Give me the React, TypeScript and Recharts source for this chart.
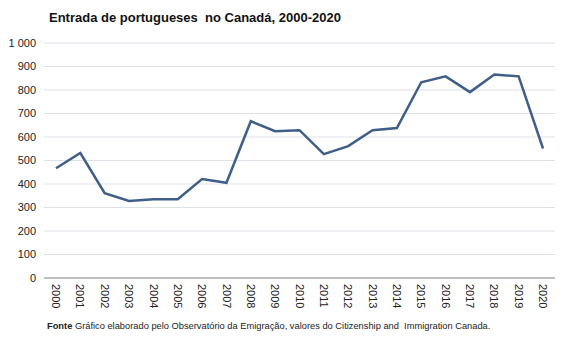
import React from "react";
import { LineChart, Line, XAxis, YAxis, CartesianGrid } from "recharts";

const years = ["2000","2001","2002","2003","2004","2005","2006","2007","2008","2009","2010","2011","2012","2013","2014","2015","2016","2017","2018","2019","2020"];
const entradas = [467, 532, 361, 328, 335, 335, 421, 405, 667, 625, 629, 527, 561, 629, 638, 833, 858, 791, 866, 858, 551];
const yTicks = [0, 100, 200, 300, 400, 500, 600, 700, 800, 900, 1000];

const title = "Entrada de portugueses\u00a0 no Canadá, 2000-2020";
const sourceLabel = "Fonte";
const sourceText = " Gráfico elaborado pelo Observatório da Emigração, valores do Citizenship and\u00a0 Immigration Canada.";

const data = years.map((y, i) => ({ year: y, value: entradas[i] }));

const fmt = (v: number) => (v >= 1000 ? `${Math.floor(v / 1000)} ${String(v % 1000).padStart(3, "0")}` : String(v));

const XTick = (props: any) => {
  const { x, y, payload } = props;
  return (
    <g transform={`translate(${x},${y - 2})`}>
      <text transform="rotate(90)" x={0} y={0} dy="0.35em" textAnchor="start" fontSize={11} fill="#222" fontFamily="Arial, 'Liberation Sans', sans-serif">
        {payload.value}
      </text>
    </g>
  );
};

export default function App() {
  return (
    <div style={{ position: "absolute", left: 0, top: 0, width: 567, height: 340, background: "#fff", fontFamily: "Arial, 'Liberation Sans', sans-serif" }}>
      <div style={{ position: "absolute", left: 49, top: 10, fontSize: 13, fontWeight: "bold", color: "#111", whiteSpace: "pre" }}>{title}</div>
      <LineChart width={567} height={340} data={data} margin={{ top: 43, right: 12, left: 0, bottom: 0 }}>
        <CartesianGrid vertical={false} stroke="#dde1e8" strokeWidth={1} />
        <XAxis dataKey="year" height={62} tick={<XTick />} tickLine={false} axisLine={{ stroke: "#8c8c8c", strokeWidth: 1 }} padding={{ left: 12, right: 12 }} interval={0} />
        <YAxis width={44} domain={[0, 1000]} ticks={yTicks} tickFormatter={fmt} tickLine={false} axisLine={false} tick={{ fontSize: 11, fill: "#222", fontFamily: "Arial, 'Liberation Sans', sans-serif" }} />
        <Line type="linear" dataKey="value" stroke="#3f5f89" strokeWidth={2.5} dot={false} isAnimationActive={false} />
      </LineChart>
      <div style={{ position: "absolute", left: 47, top: 321, fontSize: 9.3, color: "#222", whiteSpace: "pre" }}>
        <b>{sourceLabel}</b>{sourceText}
      </div>
    </div>
  );
}
